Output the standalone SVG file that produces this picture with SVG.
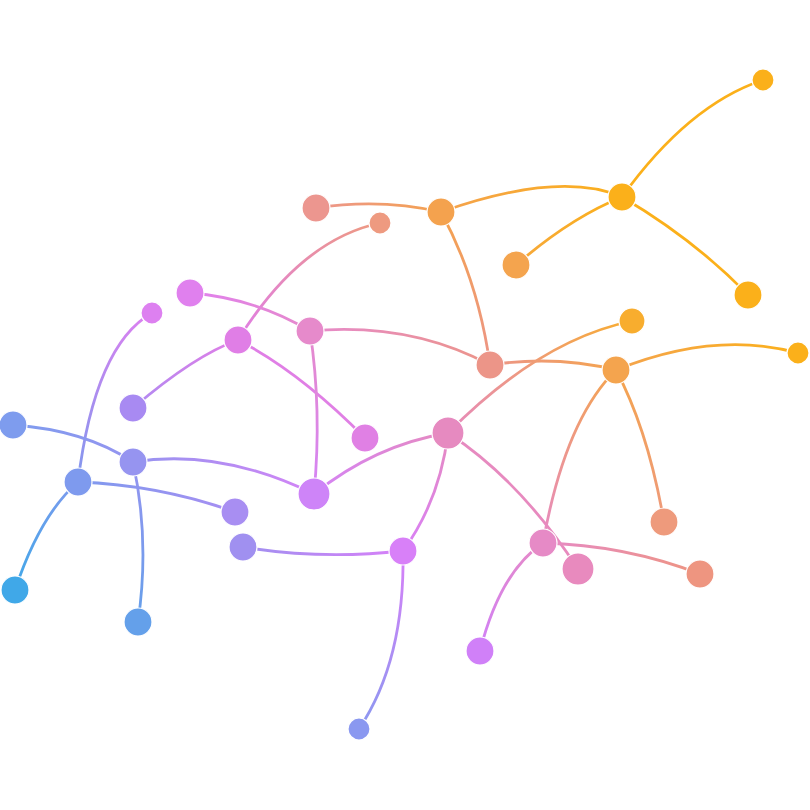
<svg xmlns="http://www.w3.org/2000/svg" width="810" height="810" viewBox="0 0 810 810">
<style>
.e{fill:none;stroke-width:2.8;stroke-linecap:round}
.n{stroke:#fff;stroke-width:1.2}
</style>
<defs>
<linearGradient id="g1" gradientUnits="userSpaceOnUse" x1="622" y1="197" x2="763" y2="80"><stop offset="0" stop-color="#FBB01A"/><stop offset="1" stop-color="#FBB01A"/></linearGradient>
<linearGradient id="g2" gradientUnits="userSpaceOnUse" x1="622" y1="197" x2="748" y2="295"><stop offset="0" stop-color="#FBB01A"/><stop offset="1" stop-color="#FBB01A"/></linearGradient>
<linearGradient id="g3" gradientUnits="userSpaceOnUse" x1="622" y1="197" x2="516" y2="265"><stop offset="0" stop-color="#FBB01A"/><stop offset="1" stop-color="#F6A83C"/></linearGradient>
<linearGradient id="g4" gradientUnits="userSpaceOnUse" x1="441" y1="212" x2="622" y2="197"><stop offset="0" stop-color="#F4A24E"/><stop offset="1" stop-color="#FBB01A"/></linearGradient>
<linearGradient id="g5" gradientUnits="userSpaceOnUse" x1="316" y1="208" x2="441" y2="212"><stop offset="0" stop-color="#EC968F"/><stop offset="1" stop-color="#F4A24E"/></linearGradient>
<linearGradient id="g6" gradientUnits="userSpaceOnUse" x1="441" y1="212" x2="490" y2="365"><stop offset="0" stop-color="#F4A24E"/><stop offset="1" stop-color="#EC9588"/></linearGradient>
<linearGradient id="g7" gradientUnits="userSpaceOnUse" x1="380" y1="223" x2="238" y2="340"><stop offset="0" stop-color="#EE9A80"/><stop offset="1" stop-color="#E07EE6"/></linearGradient>
<linearGradient id="g8" gradientUnits="userSpaceOnUse" x1="190" y1="293" x2="310" y2="331"><stop offset="0" stop-color="#E080EE"/><stop offset="1" stop-color="#E68ACB"/></linearGradient>
<linearGradient id="g9" gradientUnits="userSpaceOnUse" x1="238" y1="340" x2="133" y2="408"><stop offset="0" stop-color="#E07EE6"/><stop offset="1" stop-color="#B08AF2"/></linearGradient>
<linearGradient id="g10" gradientUnits="userSpaceOnUse" x1="238" y1="340" x2="365" y2="438"><stop offset="0" stop-color="#E07EE6"/><stop offset="1" stop-color="#E080E4"/></linearGradient>
<linearGradient id="g11" gradientUnits="userSpaceOnUse" x1="310" y1="331" x2="490" y2="365"><stop offset="0" stop-color="#E68ACB"/><stop offset="1" stop-color="#EC9588"/></linearGradient>
<linearGradient id="g12" gradientUnits="userSpaceOnUse" x1="310" y1="331" x2="314" y2="494"><stop offset="0" stop-color="#E68ACB"/><stop offset="1" stop-color="#D484F6"/></linearGradient>
<linearGradient id="g13" gradientUnits="userSpaceOnUse" x1="490" y1="365" x2="616" y2="370"><stop offset="0" stop-color="#EC9588"/><stop offset="1" stop-color="#F4A44E"/></linearGradient>
<linearGradient id="g14" gradientUnits="userSpaceOnUse" x1="616" y1="370" x2="798" y2="353"><stop offset="0" stop-color="#F4A44E"/><stop offset="1" stop-color="#FBB01A"/></linearGradient>
<linearGradient id="g15" gradientUnits="userSpaceOnUse" x1="616" y1="370" x2="664" y2="522"><stop offset="0" stop-color="#F4A44E"/><stop offset="1" stop-color="#EE9A7C"/></linearGradient>
<linearGradient id="g16" gradientUnits="userSpaceOnUse" x1="616" y1="370" x2="543" y2="543"><stop offset="0" stop-color="#F4A44E"/><stop offset="1" stop-color="#E68AC6"/></linearGradient>
<linearGradient id="g17" gradientUnits="userSpaceOnUse" x1="448" y1="433" x2="632" y2="321"><stop offset="0" stop-color="#E68AC0"/><stop offset="1" stop-color="#F8AD2E"/></linearGradient>
<linearGradient id="g18" gradientUnits="userSpaceOnUse" x1="448" y1="433" x2="314" y2="494"><stop offset="0" stop-color="#E68AC0"/><stop offset="1" stop-color="#D484F6"/></linearGradient>
<linearGradient id="g19" gradientUnits="userSpaceOnUse" x1="448" y1="433" x2="403" y2="551"><stop offset="0" stop-color="#E68AC0"/><stop offset="1" stop-color="#D880F8"/></linearGradient>
<linearGradient id="g20" gradientUnits="userSpaceOnUse" x1="448" y1="433" x2="578" y2="569"><stop offset="0" stop-color="#E68AC0"/><stop offset="1" stop-color="#E88ABE"/></linearGradient>
<linearGradient id="g21" gradientUnits="userSpaceOnUse" x1="543" y1="543" x2="700" y2="574"><stop offset="0" stop-color="#E68AC6"/><stop offset="1" stop-color="#EE9580"/></linearGradient>
<linearGradient id="g22" gradientUnits="userSpaceOnUse" x1="543" y1="543" x2="480" y2="651"><stop offset="0" stop-color="#E68AC6"/><stop offset="1" stop-color="#D080F8"/></linearGradient>
<linearGradient id="g23" gradientUnits="userSpaceOnUse" x1="152" y1="313" x2="78" y2="482"><stop offset="0" stop-color="#DD80F0"/><stop offset="1" stop-color="#8098EE"/></linearGradient>
<linearGradient id="g24" gradientUnits="userSpaceOnUse" x1="13" y1="425" x2="133" y2="462"><stop offset="0" stop-color="#7E9CEE"/><stop offset="1" stop-color="#9694F0"/></linearGradient>
<linearGradient id="g25" gradientUnits="userSpaceOnUse" x1="133" y1="462" x2="314" y2="494"><stop offset="0" stop-color="#9694F0"/><stop offset="1" stop-color="#D484F6"/></linearGradient>
<linearGradient id="g26" gradientUnits="userSpaceOnUse" x1="133" y1="462" x2="138" y2="622"><stop offset="0" stop-color="#9694F0"/><stop offset="1" stop-color="#64A0EA"/></linearGradient>
<linearGradient id="g27" gradientUnits="userSpaceOnUse" x1="78" y1="482" x2="235" y2="512"><stop offset="0" stop-color="#7E9AEE"/><stop offset="1" stop-color="#A88EF2"/></linearGradient>
<linearGradient id="g28" gradientUnits="userSpaceOnUse" x1="78" y1="482" x2="15" y2="590"><stop offset="0" stop-color="#7E9AEE"/><stop offset="1" stop-color="#40A8E8"/></linearGradient>
<linearGradient id="g29" gradientUnits="userSpaceOnUse" x1="243" y1="547" x2="403" y2="551"><stop offset="0" stop-color="#A090F0"/><stop offset="1" stop-color="#D880F8"/></linearGradient>
<linearGradient id="g30" gradientUnits="userSpaceOnUse" x1="403" y1="551" x2="359" y2="729"><stop offset="0" stop-color="#D880F8"/><stop offset="1" stop-color="#8A98F0"/></linearGradient>
</defs>
<rect width="810" height="810" fill="#fff"/>
<g id="connectors">
<path class="e" stroke="url(#g1)" d="M622,197 Q688,105 763,80"/>
<path class="e" stroke="url(#g2)" d="M622,197 Q695,240 748,295"/>
<path class="e" stroke="url(#g3)" d="M622,197 Q570,218 516,265"/>
<path class="e" stroke="url(#g4)" d="M441,212 Q560,170 622,197"/>
<path class="e" stroke="url(#g5)" d="M316,208 Q380,198 441,212"/>
<path class="e" stroke="url(#g6)" d="M441,212 Q478,280 490,365"/>
<path class="e" stroke="url(#g7)" d="M380,223 Q300,240 238,340"/>
<path class="e" stroke="url(#g8)" d="M190,293 Q255,298 310,331"/>
<path class="e" stroke="url(#g9)" d="M238,340 Q195,355 133,408"/>
<path class="e" stroke="url(#g10)" d="M238,340 Q300,372 365,438"/>
<path class="e" stroke="url(#g11)" d="M310,331 Q410,322 490,365"/>
<path class="e" stroke="url(#g12)" d="M310,331 Q322,410 314,494"/>
<path class="e" stroke="url(#g13)" d="M490,365 Q555,355 616,370"/>
<path class="e" stroke="url(#g14)" d="M616,370 Q715,330 798,353"/>
<path class="e" stroke="url(#g15)" d="M616,370 Q648,430 664,522"/>
<path class="e" stroke="url(#g16)" d="M616,370 Q565,420 543,543"/>
<path class="e" stroke="url(#g17)" d="M448,433 Q540,340 632,321"/>
<path class="e" stroke="url(#g18)" d="M448,433 Q375,445 314,494"/>
<path class="e" stroke="url(#g19)" d="M448,433 Q440,500 403,551"/>
<path class="e" stroke="url(#g20)" d="M448,433 Q520,480 578,569"/>
<path class="e" stroke="url(#g21)" d="M543,543 Q625,545 700,574"/>
<path class="e" stroke="url(#g22)" d="M543,543 Q500,572 480,651"/>
<path class="e" stroke="url(#g23)" d="M152,313 Q95,345 78,482"/>
<path class="e" stroke="url(#g24)" d="M13,425 Q85,430 133,462"/>
<path class="e" stroke="url(#g25)" d="M133,462 Q220,448 314,494"/>
<path class="e" stroke="url(#g26)" d="M133,462 Q150,540 138,622"/>
<path class="e" stroke="url(#g27)" d="M78,482 Q160,485 235,512"/>
<path class="e" stroke="url(#g28)" d="M78,482 Q40,515 15,590"/>
<path class="e" stroke="url(#g29)" d="M243,547 Q320,560 403,551"/>
<path class="e" stroke="url(#g30)" d="M403,551 Q405,660 359,729"/>
</g>
<g id="nodes">
<g id="n1"><circle class="n" cx="763" cy="80" r="11" fill="#FBB01A"/></g>
<g id="n2"><circle class="n" cx="622" cy="197" r="14" fill="#FBB01A"/></g>
<g id="n3"><circle class="n" cx="748" cy="295" r="14" fill="#FBB01A"/></g>
<g id="n4"><circle class="n" cx="516" cy="265" r="14" fill="#F4A44E"/></g>
<g id="n5"><circle class="n" cx="441" cy="212" r="14" fill="#F4A24E"/></g>
<g id="n6"><circle class="n" cx="316" cy="208" r="14" fill="#EC968F"/></g>
<g id="n7"><circle class="n" cx="380" cy="223" r="11" fill="#EE9A80"/></g>
<g id="n8"><circle class="n" cx="190" cy="293" r="14" fill="#E080EE"/></g>
<g id="n9"><circle class="n" cx="152" cy="313" r="11" fill="#DD80F0"/></g>
<g id="n10"><circle class="n" cx="238" cy="340" r="14" fill="#E07EE6"/></g>
<g id="n11"><circle class="n" cx="310" cy="331" r="14" fill="#E68ACB"/></g>
<g id="n12"><circle class="n" cx="490" cy="365" r="14" fill="#EC9588"/></g>
<g id="n13"><circle class="n" cx="632" cy="321" r="13" fill="#F8AD2E"/></g>
<g id="n14"><circle class="n" cx="616" cy="370" r="14" fill="#F4A44E"/></g>
<g id="n15"><circle class="n" cx="798" cy="353" r="11" fill="#FBB01A"/></g>
<g id="n16"><circle class="n" cx="133" cy="408" r="14" fill="#A88AF2"/></g>
<g id="n17"><circle class="n" cx="365" cy="438" r="14" fill="#E080E4"/></g>
<g id="n18"><circle class="n" cx="448" cy="433" r="16" fill="#E68AC0"/></g>
<g id="n19"><circle class="n" cx="13" cy="425" r="14" fill="#7E9CEE"/></g>
<g id="n20"><circle class="n" cx="133" cy="462" r="14" fill="#9694F0"/></g>
<g id="n21"><circle class="n" cx="78" cy="482" r="14" fill="#7E9AEE"/></g>
<g id="n22"><circle class="n" cx="314" cy="494" r="16" fill="#CE84F8"/></g>
<g id="n23"><circle class="n" cx="235" cy="512" r="14" fill="#A88EF2"/></g>
<g id="n24"><circle class="n" cx="243" cy="547" r="14" fill="#A090F0"/></g>
<g id="n25"><circle class="n" cx="403" cy="551" r="14" fill="#D880F8"/></g>
<g id="n26"><circle class="n" cx="664" cy="522" r="14" fill="#EE9A7C"/></g>
<g id="n27"><circle class="n" cx="543" cy="543" r="14" fill="#E68AC6"/></g>
<g id="n28"><circle class="n" cx="578" cy="569" r="16" fill="#E88ABE"/></g>
<g id="n29"><circle class="n" cx="700" cy="574" r="14" fill="#EE9580"/></g>
<g id="n30"><circle class="n" cx="15" cy="590" r="14" fill="#40A8E8"/></g>
<g id="n31"><circle class="n" cx="138" cy="622" r="14" fill="#64A0EA"/></g>
<g id="n32"><circle class="n" cx="480" cy="651" r="14" fill="#D080F8"/></g>
<g id="n33"><circle class="n" cx="359" cy="729" r="11" fill="#8A98F0"/></g>
</g>
</svg>
